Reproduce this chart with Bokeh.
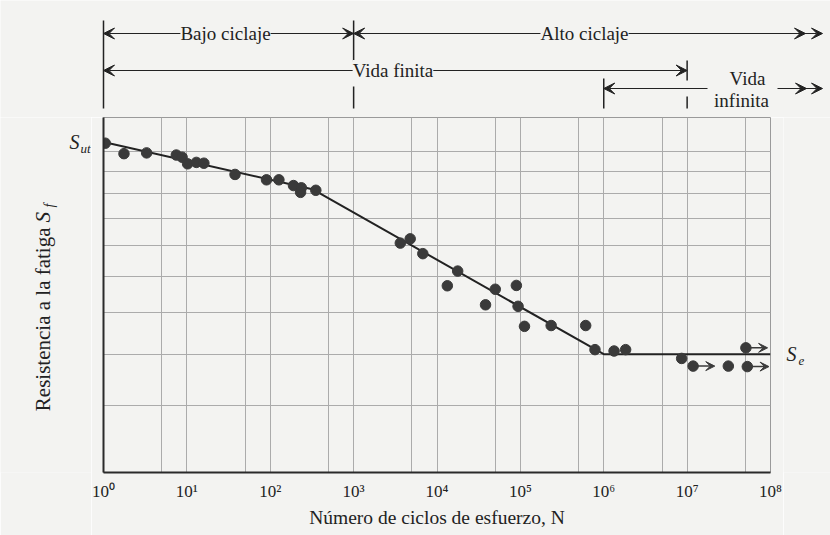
import math
from bokeh.plotting import figure
from bokeh.layouts import column, row
from bokeh.models import (FixedTicker, Label, Arrow, VeeHead, ColumnDataSource,
                          Range1d, LogScale)
from bokeh.core.properties import value
from bokeh.embed import file_html
from bokeh.resources import INLINE

# ---------------- data ----------------
N_points = [1.05, 1.76, 3.29, 7.47, 8.76, 10.2, 13.0, 16.0, 37.8, 90.2, 127, 190, 236, 231, 352,
            3630, 4770, 6760, 13300, 17700, 38200, 50000, 89500, 93800, 112000, 234000, 607000,
            785000, 1.33e6, 1.83e6, 8.6e6]
S_points = [12.44, 11.89, 11.93, 11.82, 11.71, 11.38, 11.45, 11.41, 10.87, 10.62, 10.62, 10.36,
            10.26, 10.06, 10.15, 8.08, 8.23, 7.72, 6.72, 7.16, 6.19, 6.62, 6.73, 6.15, 5.64, 5.66,
            5.66, 5.10, 5.07, 5.10, 4.91]
runout_N = [1.18e7, 3.12e7, 5.07e7, 5.27e7]
runout_S = [4.75, 4.75, 5.14, 4.74]
runout_arrow = [True, False, True, True]
runout_factor = 10 ** 0.26

curve_N = [1, 320, 1e6, 1e8]
curve_S = [12.5, 10.2, 5.0, 5.0]
S_ut = 12.5
S_e = 5.0

decades = [10 ** k for k in range(9)]
tick_labels = ["10⁰", "10¹", "10²", "10³", "10⁴", "10⁵", "10⁶", "10⁷", "10⁸"]
minor_lines = [5 * 10 ** k for k in range(8)]
y_grid = [3, 4, 5, 6, 7, 8, 9, 10, 11, 12]
y_lo, y_hi = 3, 13.9

# ---------------- layout (page pixels) ----------------
W, H = 830, 535
FL, FR, FT, FB = 103, 770, 117, 472      # plot frame
LW, RW = 91, 47                           # side strips


def xv(px):
    return 10 ** (8 * (px - FL) / (FR - FL))


def yv(py):
    return y_lo * (y_hi / y_lo) ** ((FB - py) / (FB - FT))


BG = "#f3f3f1"
INK = "#222222"
DOT = "#3a3a3a"
SERIF = "Liberation Serif"
GRID = "#ababab"

yr = Range1d(y_lo, y_hi)


def bare(width, height, bottom=0, **kw):
    f = figure(width=width, height=height, output_backend="svg", toolbar_location=None,
               x_axis_type=None, y_axis_type=None, title=None,
               min_border_left=0, min_border_right=0, min_border_top=0,
               min_border_bottom=bottom, **kw)
    f.background_fill_color = BG
    f.border_fill_color = BG
    f.outline_line_color = None
    f.grid.visible = False
    return f


# ---------------- main plot ----------------
p = figure(width=W - LW - RW, height=H - FT, x_axis_type="log", y_axis_type="log",
           x_range=(1, 1e8), y_range=yr, title=None,
           output_backend="svg", toolbar_location=None,
           min_border_left=FL - LW, min_border_right=(W - RW) - FR,
           min_border_top=0, min_border_bottom=H - FB)
p.background_fill_color = BG
p.border_fill_color = BG
p.outline_line_color = "#9a9a9a"
p.outline_line_width = 1

p.xaxis.ticker = FixedTicker(ticks=decades, minor_ticks=minor_lines)
p.xaxis.major_label_overrides = {d: t for d, t in zip(decades, tick_labels)}
p.xaxis.major_label_text_font = SERIF
p.xaxis.major_label_text_font_size = "17px"
p.xaxis.major_label_text_color = INK
p.xaxis.major_label_standoff = 3
p.xaxis.axis_label = "Número de ciclos de esfuerzo, N"
p.xaxis.axis_label_text_font = SERIF
p.xaxis.axis_label_text_font_style = "normal"
p.xaxis.axis_label_text_font_size = "19.5px"
p.xaxis.axis_label_text_color = INK
p.xaxis.axis_label_standoff = 3
p.yaxis.ticker = FixedTicker(ticks=[])
for ax in (p.xaxis[0], p.yaxis[0]):
    ax.axis_line_color = "#2a2a2a"
    ax.axis_line_width = 2
    ax.major_tick_line_color = None
    ax.minor_tick_line_color = None

p.xgrid.grid_line_color = GRID
p.xgrid.minor_grid_line_color = GRID
p.ygrid.ticker = FixedTicker(ticks=y_grid)
p.ygrid.grid_line_color = GRID

p.line(curve_N, curve_S, line_color=INK, line_width=2)
p.scatter(N_points, S_points, size=10.5, color=DOT)
p.scatter(runout_N, runout_S, size=10.5, color=DOT)

ro = [(n, s) for n, s, a in zip(runout_N, runout_S, runout_arrow) if a]
ro_src = ColumnDataSource(dict(xs=[n for n, s in ro], ys=[s for n, s in ro],
                               xe=[n * runout_factor for n, s in ro], ye=[s for n, s in ro]))
p.add_layout(Arrow(source=ro_src, x_start="xs", y_start="ys", x_end="xe", y_end="ye",
                   line_color=DOT, line_width=1.5,
                   end=VeeHead(size=9, fill_color=DOT, line_color=DOT)))

# ---------------- header: life regions ----------------
hd = bare(W, FT, x_range=Range1d(xv(0), xv(W)), y_range=Range1d(FT, 0))
hd.x_scale = LogScale()


def vline(n, y0, y1):
    hd.add_layout(Arrow(x_start=n, y_start=y0, x_end=n, y_end=y1, end=None,
                        line_color=INK, line_width=1.5))


def head():
    return VeeHead(size=11, fill_color=INK, line_color=INK, line_width=1)


def harrow(x0, x1, y, start=True, end=True):
    hd.add_layout(Arrow(x_start=x0, y_start=y, x_end=x1, y_end=y,
                        start=head() if start else None, end=head() if end else None,
                        line_color=INK, line_width=1.2))


def hlabel(x, y, text, align="center", x_offset=0, bg=True):
    hd.add_layout(Label(x=x, y=y, text=text, text_font=SERIF, text_font_size="19px",
                        text_color=INK, text_align=align, text_baseline="middle",
                        x_offset=x_offset, background_fill_color=BG if bg else None))


rowA, rowB, rowC = 33, 70, 88
vline(decades[0], 20, 108)
vline(decades[3], 20, 61)
vline(decades[3], 86, 108)
vline(decades[6], 78, 108)
vline(decades[7], 60, 80)
vline(decades[7], 96, 108)

harrow(decades[0], decades[3], rowA)
harrow(decades[3], xv(822), rowA)
harrow(xv(790), xv(805), rowA, start=False)
harrow(decades[0], decades[7], rowB)
harrow(decades[6], xv(707), rowC, end=False)
harrow(xv(777), xv(822), rowC, start=False)
harrow(xv(790), xv(806), rowC, start=False)

hlabel(xv(225), rowA, "Bajo ciclaje")
hlabel(xv(584), rowA, "Alto ciclaje")
hlabel(decades[3], rowB, "Vida finita", align="left", x_offset=-1)
hlabel(xv(747), 78, "Vida", bg=False)
hlabel(xv(741), 100, "infinita", bg=False)

# ---------------- left strip: y label and S_ut ----------------
lf = bare(LW, H - FT, bottom=H - FB, x_range=Range1d(0, LW), y_range=yr)
lf.y_scale = LogScale()
lf.text(x=[42], y=[yv(227)], text=["Resistencia a la fatiga"], angle=math.pi / 2,
        text_align="right", text_baseline="middle", text_font=value(SERIF),
        text_font_size="21px", text_color=INK)
lf.text(x=[42, 49], y=[yv(222), yv(207)], text=["S", "f"], angle=math.pi / 2,
        text_align="left", text_baseline="middle", text_font=value(SERIF),
        text_font_style="italic", text_font_size=["21px", "14px"], text_color=INK)
lf.text(x=[79], y=[S_ut], text=["S"], text_align="right", text_baseline="middle",
        text_font=value(SERIF), text_font_style="italic", text_font_size="20px",
        text_color=INK)
lf.text(x=[80], y=[S_ut], y_offset=6, text=["ut"], text_align="left", text_baseline="middle",
        text_font=value(SERIF), text_font_style="italic", text_font_size="13px",
        text_color=INK)

# ---------------- right strip: S_e ----------------
rf = bare(RW, H - FT, bottom=H - FB, x_range=Range1d(0, RW), y_range=yr)
rf.y_scale = LogScale()
rf.text(x=[3], y=[S_e], text=["S"], text_align="left", text_baseline="middle",
        text_font=value(SERIF), text_font_style="italic", text_font_size="20px",
        text_color=INK)
rf.text(x=[15], y=[S_e], y_offset=7, text=["e"], text_align="left", text_baseline="middle",
        text_font=value(SERIF), text_font_style="italic", text_font_size="13px",
        text_color=INK)

layout = column(hd, row(lf, p, rf))
open("out.html", "w").write(file_html(layout, INLINE))
